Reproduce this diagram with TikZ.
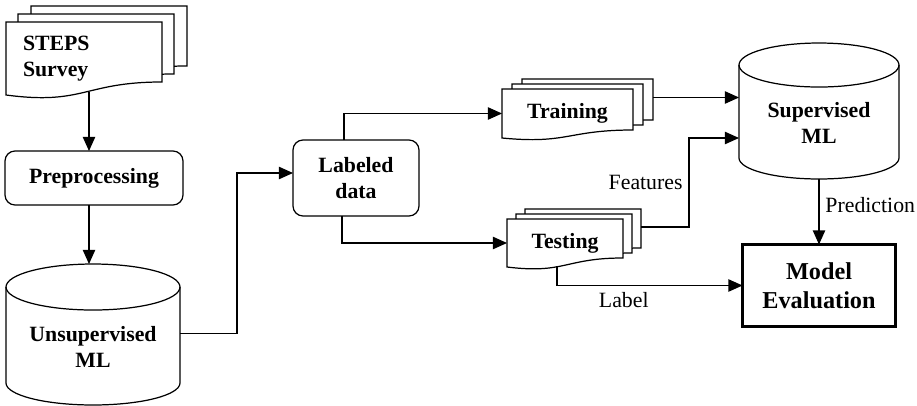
\documentclass[tikz,border=0pt]{standalone}
\usepackage{fontspec}
\setmainfont{Liberation Serif}
\usetikzlibrary{arrows.meta,calc,backgrounds}
\tikzstyle{frame}=[font=\fontsize{12.4}{14.8}\selectfont\bfseries, align=center, inner sep=0pt, outer sep=0pt]
\tikzstyle{box}=[frame, draw, line width=0.7pt, rounded corners=0.2cm]
\tikzstyle{wire}=[line width=0.7pt]
\tikzstyle{arrow}=[line width=0.7pt, -{Triangle[length=8pt,width=7pt]}]
\tikzstyle{lbl}=[font=\fontsize{12.4}{14.8}\selectfont]

% one page of a document stack, shifted by (#3,#4)
\newcommand{\docpage}[4]{%
  \draw[wire, fill=white] ($(#1.south west)+(#3,#4)$) -- ($(#1.north west)+(#3,#4)$)
    -- ($(#1.north east)+(#3,#4)$) -- ($(#1.south east)+(#3,#4-#2)$)
    .. controls ($(#1.south)+(#3,#4-#2)$) and ($(#1.south)+(#3,#4+0.8*#2)$) .. ($(#1.south west)+(#3,#4)$) -- cycle;
}
% database drum round a node
\newcommand{\drum}[4]{%
  \draw[wire] ($(#1.north)+(0,#3)$) ellipse [x radius=#2, y radius=#3];
  \draw[wire] ($(#1.north west)+(0,#3)$) -- (#1.south west)
    arc[start angle=180, end angle=360, x radius=#2, y radius=#4] -- ($(#1.north east)+(0,#3)$);
}

\begin{document}
\begin{tikzpicture}[x=0.02cm, y=-0.02cm]
  \useasboundingbox (0,0) rectangle (917,406);

  \node[frame, minimum width=3.12cm, minimum height=1.46cm, text width=2.44cm, inner xsep=0.34cm, align=left] (steps) at (84,58.5) {STEPS\\Survey};
  \node[box, minimum width=3.56cm, minimum height=1.08cm] (pre) at (94,178) {Preprocessing};
  \node[frame, minimum width=3.48cm, minimum height=1.46cm] (unsup) at (93,346.5) {Unsupervised\\ML};
  \node[box, minimum width=2.52cm, minimum height=1.52cm] (lab) at (356,178) {Labeled\\data};
  \node[frame, minimum width=2.62cm, minimum height=0.98cm] (train) at (567.5,113.5) {Training};
  \node[frame, minimum width=2.32cm, minimum height=0.96cm] (test) at (565,243) {Testing};
  \node[frame, minimum width=3.2cm, minimum height=1.42cm] (sup) at (819,122.5) {Supervised\\ML};
  \node[frame, draw, line width=1.8pt, minimum width=3.06cm, minimum height=1.64cm,
        font=\fontsize{13.8}{16.4}\selectfont\bfseries] (eval) at (819,285.5) {Model\\Evaluation};

  % document stacks
  \begin{scope}[on background layer]
    \foreach \dx/\dy in {25/-16,12/-8,0/0}
      {\docpage{steps}{13}{\dx}{\dy}}
    \foreach \dx/\dy in {20/-10,10/-5,0/0}
      {\docpage{train}{8}{\dx}{\dy}}
    \foreach \dx/\dy in {18/-10,9/-5,0/0}
      {\docpage{test}{9}{\dx}{\dy}}
  \end{scope}

  % drums
  \drum{unsup}{1.74cm}{0.46cm}{0.44cm}
  \drum{sup}{1.6cm}{0.44cm}{0.42cm}

  % connections
  \coordinate (s1) at ($(steps.south)+(5,-3)$);
  \draw[arrow] (s1) -- (s1 |- pre.north);
  \draw[arrow] (pre.south -| s1) -- ($(unsup.north -| s1)+(0,-46)$);
  \draw[arrow] ([yshift=0.26cm]unsup.east) -- ++(57,0) |- ([yshift=0.1cm]lab.west);
  \draw[arrow] ([xshift=-0.24cm]lab.north) |- (train.west);
  \draw[arrow] ([xshift=-0.28cm]lab.south) |- (test.west);

  \coordinate (t1) at ($(train.east)+(20,-16)$);
  \draw[arrow] (t1) -- (t1 -| sup.west);
  \coordinate (t2) at ($(test.east)+(18,-16)$);
  \draw[arrow] (t2) -- ++(48,0) |- node[lbl, pos=0.25, left] (feat) {Features} ([yshift=-0.31cm]sup.west);
  \coordinate (t3) at ($(test.south)+(-8,-1)$);
  \draw[arrow] (t3) |- node[lbl, pos=0.68, below] (labl) {Label} (eval.west);
  \draw[arrow] ($(sup.south)+(0,21)$) -- node[lbl, pos=0.4, right] (pred) {Prediction} (eval.north);
\end{tikzpicture}
\end{document}
